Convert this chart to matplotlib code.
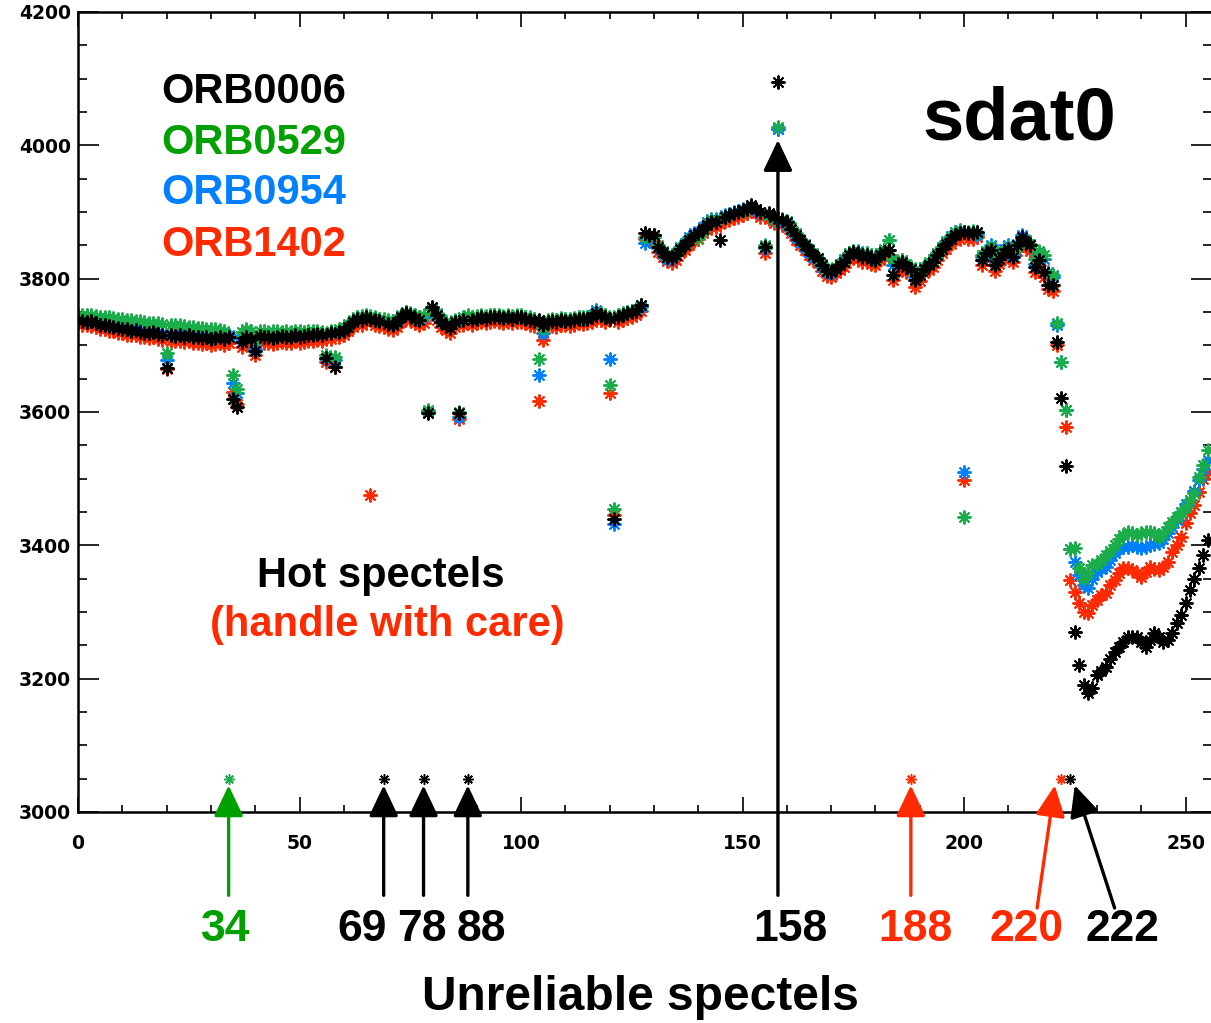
import numpy as np
import matplotlib
matplotlib.use('Agg')
import matplotlib.pyplot as plt
from matplotlib.ticker import MultipleLocator

# spectel index and the four orbits (sdat0 values)
spectel = np.arange(256)

orb0006 = [
    3738, 3737, 3735, 3736, 3733, 3731, 3730, 3729, 3728, 3726, 3725, 3724, 3722, 3723, 3720, 3719,
    3718, 3720, 3717, 3716, 3666, 3715, 3714, 3716, 3713, 3715, 3712, 3713, 3711, 3712, 3710, 3711,
    3712, 3710, 3713, 3620, 3608, 3705, 3712, 3710, 3692, 3714, 3712, 3713, 3711, 3712, 3714, 3712,
    3713, 3715, 3713, 3714, 3716, 3715, 3717, 3715, 3681, 3718, 3668, 3720, 3722, 3728, 3735, 3740,
    3738, 3742, 3740, 3738, 3736, 3050, 3732, 3730, 3735, 3742, 3748, 3745, 3740, 3738, 3050, 3598,
    3757, 3745, 3735, 3730, 3726, 3735, 3598, 3738, 3050, 3738, 3740, 3742, 3740, 3742, 3743, 3742,
    3741, 3742, 3740, 3742, 3742, 3740, 3738, 3736, 3738, 3730, 3735, 3736, 3735, 3738, 3737, 3736,
    3738, 3740, 3739, 3740, 3742, 3748, 3745, 3742, 3740, 3440, 3742, 3745, 3748, 3750, 3752, 3760,
    3868, 3865, 3865, 3848, 3840, 3833, 3831, 3835, 3845, 3850, 3858, 3865, 3868, 3875, 3880, 3885,
    3885, 3858, 3893, 3895, 3898, 3900, 3903, 3905, 3910, 3905, 3900, 3848, 3898, 3892, 4095, 3888,
    3885, 3875, 3865, 3858, 3850, 3843, 3835, 3831, 3820, 3812, 3810, 3815, 3820, 3825, 3835, 3840,
    3838, 3832, 3835, 3830, 3828, 3835, 3840, 3843, 3805, 3820, 3825, 3818, 3815, 3798, 3805, 3815,
    3820, 3825, 3835, 3845, 3852, 3860, 3865, 3868, 3870, 3868, 3868, 3870, 3828, 3838, 3843, 3820,
    3830, 3838, 3845, 3833, 3850, 3863, 3855, 3850, 3817, 3828, 3810, 3790, 3790, 3705, 3621, 3519,
    3050, 3270, 3220, 3190, 3178, 3186, 3205, 3212, 3218, 3230, 3240, 3248, 3255, 3263, 3262, 3263,
    3255, 3248, 3258, 3268, 3262, 3255, 3258, 3268, 3283, 3295, 3313, 3333, 3350, 3366, 3385, 3408,
]

orb0529 = [
    3746, 3746, 3745, 3745, 3744, 3743, 3742, 3742, 3741, 3740, 3739, 3738, 3738, 3737, 3736, 3735,
    3734, 3734, 3733, 3732, 3688, 3731, 3730, 3730, 3729, 3728, 3727, 3726, 3726, 3725, 3724, 3724,
    3723, 3722, 3050, 3655, 3635, 3720, 3725, 3722, 3708, 3722, 3721, 3720, 3721, 3722, 3720, 3721,
    3720, 3722, 3721, 3720, 3722, 3721, 3722, 3720, 3685, 3722, 3682, 3725, 3728, 3732, 3738, 3742,
    3744, 3746, 3744, 3742, 3740, 3740, 3738, 3736, 3740, 3746, 3750, 3748, 3745, 3742, 3745, 3603,
    3755, 3748, 3740, 3735, 3730, 3738, 3600, 3742, 3745, 3742, 3744, 3745, 3744, 3745, 3746, 3745,
    3744, 3745, 3744, 3745, 3745, 3743, 3742, 3740, 3680, 3726, 3738, 3740, 3738, 3741, 3740, 3739,
    3741, 3743, 3742, 3743, 3745, 3750, 3748, 3745, 3640, 3455, 3745, 3748, 3750, 3752, 3755, 3760,
    3862, 3866, 3863, 3850, 3842, 3835, 3833, 3838, 3846, 3852, 3860, 3862, 3861, 3872, 3882, 3888,
    3888, 3890, 3892, 3896, 3898, 3900, 3902, 3905, 3908, 3904, 3900, 3850, 3895, 3890, 4027, 3890,
    3886, 3878, 3868, 3860, 3852, 3845, 3838, 3830, 3822, 3815, 3812, 3818, 3822, 3828, 3838, 3842,
    3840, 3835, 3838, 3832, 3830, 3838, 3845, 3858, 3830, 3825, 3828, 3822, 3818, 3805, 3810, 3818,
    3825, 3830, 3838, 3848, 3855, 3862, 3870, 3872, 3443, 3870, 3872, 3868, 3835, 3842, 3848, 3832,
    3835, 3842, 3848, 3840, 3848, 3860, 3858, 3852, 3830, 3842, 3835, 3808, 3805, 3733, 3675, 3603,
    3395, 3396, 3366, 3350, 3358, 3370, 3372, 3378, 3385, 3392, 3400, 3410, 3415, 3420, 3418, 3415,
    3418, 3420, 3420, 3418, 3413, 3418, 3428, 3435, 3443, 3450, 3458, 3468, 3478, 3503, 3520, 3543,
]

orb0954 = [
    3740, 3739, 3738, 3737, 3736, 3734, 3733, 3732, 3731, 3729, 3728, 3727, 3725, 3726, 3723, 3722,
    3721, 3722, 3720, 3719, 3678, 3718, 3717, 3718, 3716, 3717, 3715, 3716, 3714, 3715, 3713, 3714,
    3715, 3713, 3716, 3643, 3628, 3710, 3715, 3712, 3695, 3716, 3714, 3715, 3714, 3715, 3716, 3714,
    3715, 3717, 3716, 3716, 3718, 3717, 3719, 3717, 3680, 3720, 3678, 3722, 3724, 3730, 3737, 3742,
    3740, 3744, 3742, 3740, 3738, 3736, 3734, 3732, 3737, 3744, 3750, 3747, 3742, 3740, 3742, 3602,
    3756, 3746, 3737, 3732, 3728, 3736, 3592, 3740, 3742, 3740, 3742, 3744, 3742, 3744, 3745, 3744,
    3743, 3744, 3742, 3744, 3744, 3742, 3740, 3738, 3655, 3718, 3737, 3738, 3737, 3740, 3739, 3738,
    3740, 3742, 3741, 3742, 3745, 3753, 3747, 3744, 3680, 3432, 3744, 3747, 3750, 3752, 3754, 3758,
    3853, 3862, 3866, 3846, 3838, 3830, 3829, 3836, 3848, 3854, 3862, 3868, 3870, 3878, 3885, 3890,
    3890, 3890, 3895, 3897, 3900, 3902, 3904, 3906, 3908, 3902, 3898, 3846, 3896, 3888, 4025, 3885,
    3883, 3873, 3862, 3855, 3848, 3840, 3833, 3828, 3818, 3810, 3808, 3815, 3822, 3830, 3838, 3842,
    3842, 3836, 3838, 3834, 3832, 3838, 3843, 3858, 3820, 3822, 3828, 3820, 3816, 3802, 3808, 3818,
    3823, 3830, 3838, 3848, 3856, 3864, 3870, 3873, 3510, 3868, 3870, 3866, 3832, 3842, 3850, 3830,
    3834, 3844, 3850, 3836, 3852, 3865, 3858, 3850, 3822, 3838, 3830, 3810, 3803, 3730, 3675, 3603,
    3395, 3375, 3355, 3340, 3336, 3350, 3360, 3365, 3368, 3378, 3388, 3395, 3398, 3398, 3400, 3398,
    3396, 3398, 3400, 3402, 3403, 3410, 3418, 3428, 3438, 3450, 3462, 3468, 3482, 3498, 3515, 3528,
]

orb1402 = [
    3733, 3731, 3730, 3729, 3727, 3725, 3724, 3722, 3721, 3719, 3718, 3716, 3715, 3716, 3713, 3712,
    3711, 3712, 3709, 3708, 3665, 3707, 3706, 3707, 3705, 3706, 3703, 3704, 3702, 3703, 3701, 3702,
    3703, 3701, 3704, 3630, 3612, 3698, 3703, 3700, 3685, 3705, 3703, 3704, 3702, 3703, 3705, 3703,
    3704, 3706, 3704, 3705, 3707, 3706, 3708, 3706, 3675, 3709, 3668, 3712, 3715, 3722, 3728, 3733,
    3731, 3735, 3475, 3731, 3729, 3727, 3725, 3723, 3728, 3735, 3740, 3738, 3733, 3731, 3733, 3600,
    3748, 3738, 3728, 3723, 3719, 3728, 3590, 3731, 3733, 3731, 3733, 3735, 3733, 3735, 3736, 3735,
    3734, 3735, 3733, 3735, 3735, 3733, 3731, 3729, 3617, 3708, 3728, 3729, 3728, 3731, 3730, 3729,
    3731, 3733, 3732, 3733, 3735, 3741, 3738, 3735, 3628, 3445, 3735, 3738, 3741, 3743, 3745, 3752,
    3860, 3858, 3857, 3840, 3832, 3826, 3824, 3828, 3838, 3843, 3850, 3857, 3860, 3868, 3873, 3878,
    3878, 3882, 3886, 3888, 3891, 3893, 3896, 3898, 3902, 3898, 3893, 3838, 3890, 3884, 4025, 3880,
    3878, 3868, 3858, 3850, 3843, 3836, 3828, 3823, 3812, 3804, 3802, 3808, 3813, 3818, 3828, 3832,
    3830, 3825, 3828, 3822, 3820, 3828, 3832, 3836, 3798, 3812, 3818, 3810, 3050, 3788, 3797, 3808,
    3813, 3818, 3828, 3838, 3845, 3852, 3858, 3860, 3498, 3860, 3860, 3862, 3820, 3830, 3835, 3812,
    3822, 3830, 3838, 3825, 3842, 3855, 3847, 3842, 3810, 3820, 3802, 3785, 3782, 3700, 3050, 3578,
    3348, 3330, 3313, 3300, 3298, 3310, 3318, 3325, 3328, 3340, 3348, 3358, 3366, 3366, 3363, 3358,
    3353, 3360, 3368, 3365, 3363, 3368, 3375, 3390, 3400, 3413, 3433, 3448, 3460, 3480, 3500, 3510,
]

orb_names = ['ORB0006', 'ORB0529', 'ORB0954', 'ORB1402']
orb_text_colors = ['black', '#00a000', '#0080ff', '#ff2a00']
orb_marker_colors = ['black', '#1aad4a', '#0080ff', '#ff2a00']

# flagged (unreliable) spectels and their arrows
flag_labels = ['34', '69', '78', '88', '158', '188', '220', '222']
flag_colors = ['#00a000', 'black', 'black', 'black', 'black', '#ff2a00', '#ff2a00', 'black']
flag_tip_x = [34, 69, 78, 88, 158, 188, 220.5, 225]
flag_tip_y = [3040, 3040, 3040, 3040, 4008, 3040, 3040, 3040]
flag_tail_x = [34, 69, 78, 88, 158, 188, 216.5, 234]
flag_tail_y = [2875, 2875, 2875, 2875, 2875, 2875, 2856, 2856]
flag_text_x = [33.4, 64.1, 77.7, 91, 160.7, 189, 214, 235.7]

W, H = 1211, 1023
fig = plt.figure(figsize=(W / 100, H / 100), dpi=100)
ax = fig.add_axes([78 / W, (H - 812) / H, (1212 - 78) / W, 800 / H])

# black plotted last so it sits on top, like the original overplots
order = [3, 2, 1, 0]
all_series = [orb0006, orb0529, orb0954, orb1402]
for i in order:
    vals = np.array(all_series[i])
    bad = vals < 3100
    ax.plot(spectel[~bad], vals[~bad], ls='none', marker=(8, 2, 0), ms=10,
            mew=1.4, color=orb_marker_colors[i])
    ax.plot(spectel[bad], vals[bad], ls='none', marker=(8, 2, 0), ms=7.5,
            mew=1.1, color=orb_marker_colors[i])

ax.set_xlim(0, (1212 - 78) / 4.43)
ax.set_ylim(3000, 4200)
ax.xaxis.set_major_locator(MultipleLocator(50))
ax.xaxis.set_minor_locator(MultipleLocator(10))
ax.yaxis.set_major_locator(MultipleLocator(200))
ax.yaxis.set_minor_locator(MultipleLocator(50))
ax.tick_params(axis='both', which='both', direction='in', top=True, right=True, width=1.2)
ax.tick_params(axis='y', which='major', length=15, pad=5)
ax.tick_params(axis='y', which='minor', length=6.5)
ax.tick_params(axis='x', which='major', length=11, pad=16)
ax.tick_params(axis='x', which='minor', length=5)
for lab in ax.get_xticklabels() + ax.get_yticklabels():
    lab.set_fontsize(13.5)
    lab.set_fontweight('bold')
    lab.set_family('DejaVu Sans')
for sp in ax.spines.values():
    sp.set_linewidth(1.8)

bold = dict(family=['Liberation Sans', 'DejaVu Sans'], weight='bold')

# orbit legend as coloured text
leg_y = [0.9, 0.836, 0.774, 0.709]
for name, col, yy in zip(orb_names, orb_text_colors, leg_y):
    ax.text(0.0735, yy, name, color=col, fontsize=30, ha='left', va='center',
            transform=ax.transAxes, **bold)

ax.text(0.830, 0.84, 'sdat0', fontsize=53.5, ha='center', va='baseline',
        transform=ax.transAxes, **bold)
ax.text(0.2668, 0.281, 'Hot spectels', fontsize=30, ha='center', va='baseline',
        transform=ax.transAxes, **bold)
ax.text(0.273, 0.22, '(handle with care)', fontsize=30, color='#ff2a00',
        ha='center', va='baseline', transform=ax.transAxes, **bold)

for lab, col, tx, ty, sx, sy, lx in zip(flag_labels, flag_colors, flag_tip_x, flag_tip_y,
                                        flag_tail_x, flag_tail_y, flag_text_x):
    ax.annotate('', xy=(tx, ty), xytext=(sx, sy), annotation_clip=False,
                arrowprops=dict(arrowstyle='-|>,head_length=0.95,head_width=0.45',
                                color=col, lw=2.4, shrinkA=0, shrinkB=0,
                                mutation_scale=20))
    ax.text(lx, 2823, lab, color=col, fontsize=32, ha='center', va='center',
            clip_on=False, **bold)

fig.text(640 / W, 1 - 998 / H, 'Unreliable spectels', fontsize=34.5, ha='center',
         va='center', **bold)

fig.savefig('out.png', dpi=100)
